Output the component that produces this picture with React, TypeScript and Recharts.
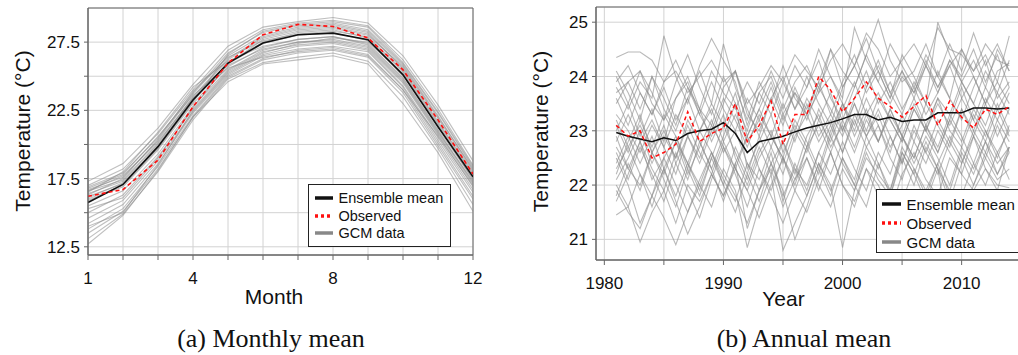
import React from "react"
import { LineChart, Line, XAxis, YAxis, CartesianGrid, ReferenceArea, Legend, Label } from "recharts"

const FONT = "'Liberation Sans', Arial, sans-serif"
const SERIF = "'Liberation Serif', 'Times New Roman', serif"

// (a) monthly mean
const months = [1, 2, 3, 4, 5, 6, 7, 8, 9, 10, 11, 12]
const monthLabels = [1, 4, 8, 12]
const monthTempTicks = [12.5, 15, 17.5, 20, 22.5, 25, 27.5]
const monthTempLabels = [12.5, 17.5, 22.5, 27.5]

const monthlyMean = [15.75, 17.07, 19.84, 23.26, 25.96, 27.43, 28.04, 28.16, 27.67, 25.1, 21.3, 17.63]
const monthlyObs = [16.2, 16.7, 18.86, 22.77, 25.96, 28.04, 28.8, 28.65, 27.8, 25.47, 21.8, 17.83]
const monthlyGcm = [
  [17.3, 18.6, 21.2, 24.4, 27.2, 28.6, 29.0, 29.3, 28.9, 26.5, 22.9, 18.8],
  [17.0, 18.2, 20.8, 24.0, 26.9, 28.4, 28.9, 29.1, 28.7, 26.2, 22.6, 18.5],
  [16.9, 17.9, 20.5, 23.8, 26.7, 28.2, 28.7, 28.9, 28.4, 25.9, 22.3, 18.3],
  [16.7, 17.6, 20.3, 23.7, 26.5, 28.0, 28.6, 28.8, 28.3, 25.8, 22.1, 18.1],
  [16.6, 17.4, 20.1, 23.5, 26.3, 27.9, 28.5, 28.7, 28.2, 25.6, 21.9, 18.0],
  [16.4, 17.3, 20.0, 23.4, 26.2, 27.8, 28.4, 28.6, 28.1, 25.5, 21.7, 17.9],
  [16.3, 17.5, 20.4, 23.9, 26.4, 27.6, 28.1, 28.3, 27.9, 25.4, 21.6, 17.8],
  [16.2, 17.1, 19.9, 23.3, 26.0, 27.5, 28.2, 28.4, 27.8, 25.3, 21.5, 17.7],
  [16.0, 17.0, 19.7, 23.2, 25.9, 27.4, 28.0, 28.2, 27.6, 25.1, 21.3, 17.6],
  [16.5, 18.0, 20.9, 24.2, 26.1, 27.2, 27.7, 27.9, 27.4, 24.9, 21.1, 17.5],
  [16.8, 17.8, 20.6, 23.6, 25.8, 27.0, 27.5, 27.7, 27.2, 24.7, 20.9, 17.3],
  [15.9, 16.9, 19.6, 23.0, 25.7, 27.1, 27.7, 27.9, 27.3, 24.8, 21.0, 17.2],
  [15.5, 16.6, 19.3, 22.8, 25.5, 26.9, 27.5, 27.6, 27.1, 24.6, 20.8, 17.1],
  [15.0, 16.3, 19.1, 22.6, 25.4, 26.8, 27.3, 27.5, 27.0, 24.5, 20.7, 16.9],
  [14.6, 15.9, 18.8, 22.4, 25.2, 26.6, 27.2, 27.4, 26.9, 24.3, 20.5, 16.7],
  [14.2, 15.6, 18.6, 22.3, 25.1, 26.5, 27.0, 27.2, 26.8, 24.2, 20.3, 16.5],
  [13.8, 15.3, 18.4, 22.1, 25.0, 26.3, 26.9, 27.1, 26.6, 24.0, 20.1, 16.2],
  [13.5, 15.1, 18.2, 22.0, 24.9, 26.2, 26.7, 26.9, 26.4, 23.8, 19.9, 16.0],
  [13.1, 14.9, 18.0, 21.8, 24.8, 26.0, 26.4, 26.7, 26.1, 23.5, 19.7, 15.6],
  [12.7, 14.8, 18.1, 22.0, 24.6, 25.9, 26.2, 26.5, 25.9, 23.0, 19.4, 15.1],
  [16.6, 17.7, 20.2, 23.4, 25.6, 26.4, 26.8, 27.0, 26.5, 24.0, 20.6, 17.0],
  [14.0, 15.0, 18.5, 22.5, 25.3, 26.7, 27.4, 27.8, 27.5, 25.2, 21.4, 17.4],
  [16.1, 17.2, 19.8, 23.1, 26.6, 28.3, 28.8, 29.0, 28.6, 26.0, 22.4, 18.4],
  [15.3, 16.1, 19.0, 22.7, 25.9, 27.7, 28.3, 28.5, 28.0, 25.7, 22.0, 18.2],
]

// (b) annual mean
const years = [
  1981, 1982, 1983, 1984, 1985, 1986, 1987, 1988, 1989, 1990, 1991, 1992, 1993, 1994, 1995, 1996, 1997,
  1998, 1999, 2000, 2001, 2002, 2003, 2004, 2005, 2006, 2007, 2008, 2009, 2010, 2011, 2012, 2013, 2014,
]
const yearTicks = [1980, 1985, 1990, 1995, 2000, 2005, 2010]
const yearLabels = [1980, 1990, 2000, 2010]
const annualTempTicks = [21, 22, 23, 24, 25]

const annualMean = [
  22.97, 22.9, 22.85, 22.8, 22.87, 22.82, 22.95, 23.0, 23.03, 23.15, 22.95, 22.6, 22.8, 22.85, 22.9, 22.98, 23.05,
  23.1, 23.15, 23.22, 23.3, 23.3, 23.2, 23.25, 23.17, 23.2, 23.2, 23.33, 23.33, 23.33, 23.42, 23.42, 23.4, 23.42,
]
const annualObs = [
  23.1, 22.9, 23.0, 22.5, 22.6, 22.75, 23.35, 22.8, 22.95, 23.05, 23.5, 22.8, 23.1, 23.55, 22.75, 23.3, 23.3,
  24.0, 23.75, 23.35, 23.6, 23.9, 23.6, 23.45, 23.25, 23.45, 23.65, 23.1, 23.55, 23.25, 23.05, 23.4, 23.3, 23.45,
]
const annualGcm = [
  [24.35, 24.45, 24.45, 24.3, 23.9, 24.1, 23.7, 24.0, 24.3, 23.9, 24.1, 23.5, 23.8, 24.2, 23.9, 24.4, 24.1, 23.8, 24.3, 24.6, 24.2, 24.8, 24.5, 24.0, 24.3, 24.6, 24.2, 24.9, 24.5, 24.4, 24.1, 24.6, 24.3, 24.2],
  [23.8, 23.4, 23.9, 23.6, 24.75, 24.0, 23.5, 24.2, 24.7, 24.3, 23.9, 23.1, 23.7, 24.0, 23.4, 23.9, 24.2, 23.7, 24.5, 24.1, 23.8, 24.4, 25.05, 24.3, 23.9, 24.1, 24.6, 24.0, 23.6, 24.5, 24.1, 24.4, 23.9, 24.75],
  [21.45, 21.6, 20.95, 21.5, 21.9, 21.3, 22.0, 21.7, 22.2, 21.8, 22.4, 21.2, 21.9, 22.3, 21.6, 22.1, 22.5, 21.9, 22.6, 22.0, 21.7, 22.3, 22.0, 21.5, 22.2, 22.6, 22.1, 21.8, 22.5, 22.2, 21.9, 22.3, 22.0, 21.95],
  [22.5, 22.0, 21.3, 21.8, 21.4, 20.9, 21.5, 22.0, 21.6, 22.3, 21.9, 20.85, 21.6, 22.2, 20.8, 21.3, 21.8, 22.4, 21.9, 22.5, 22.1, 22.9, 22.4, 21.8, 22.6, 22.2, 22.8, 22.3, 21.7, 22.4, 22.9, 22.3, 21.9, 22.7],
  [23.7, 23.9, 24.1, 23.5, 23.2, 23.6, 24.0, 23.4, 23.1, 23.8, 24.1, 23.3, 23.0, 23.6, 24.0, 23.4, 23.8, 24.3, 23.6, 23.2, 23.8, 24.4, 23.9, 23.5, 24.0, 23.7, 24.3, 23.8, 24.2, 24.5, 24.0, 23.5, 24.1, 24.25],
  [22.9, 22.3, 22.8, 22.1, 22.5, 22.9, 22.3, 23.0, 22.6, 22.0, 22.7, 22.2, 22.9, 22.4, 22.8, 22.2, 22.9, 23.3, 22.7, 23.1, 22.6, 23.2, 22.8, 23.4, 22.9, 22.5, 23.1, 23.6, 23.0, 22.7, 23.3, 22.9, 23.5, 23.0],
  [24.1, 23.7, 23.2, 24.0, 23.4, 23.0, 23.6, 24.1, 23.5, 24.6, 23.8, 23.2, 23.9, 23.5, 24.2, 23.6, 23.3, 23.9, 24.5, 23.8, 24.2, 23.7, 24.1, 23.6, 24.4, 24.0, 23.5, 25.0, 24.4, 23.9, 24.3, 23.8, 24.5, 24.1],
  [21.8, 22.4, 21.9, 22.6, 22.1, 21.6, 22.3, 21.8, 22.5, 22.0, 21.5, 22.2, 21.7, 22.4, 21.9, 21.0, 21.6, 22.3, 21.8, 22.5, 22.0, 21.6, 22.4, 21.9, 22.6, 22.2, 21.7, 22.3, 21.0, 21.8, 22.4, 22.0, 22.6, 22.1],
  [23.3, 23.0, 22.6, 23.1, 22.7, 23.3, 22.9, 22.4, 23.0, 23.6, 23.2, 22.7, 23.3, 22.9, 23.5, 23.0, 23.6, 23.2, 22.8, 23.4, 23.9, 23.3, 23.7, 23.2, 22.8, 23.4, 23.0, 23.6, 23.3, 23.9, 23.5, 23.1, 23.7, 23.3],
  [22.2, 22.8, 23.3, 22.6, 23.1, 22.4, 22.9, 23.4, 22.8, 23.3, 22.5, 22.0, 22.6, 23.0, 22.4, 23.0, 22.6, 23.2, 23.7, 23.0, 23.5, 22.9, 23.3, 22.7, 23.1, 23.6, 23.1, 22.6, 23.2, 23.8, 23.2, 22.8, 23.4, 22.9],
  [23.0, 23.5, 22.9, 23.4, 22.8, 23.6, 23.9, 23.3, 22.9, 23.5, 24.1, 23.4, 22.9, 23.6, 23.1, 23.8, 23.3, 23.7, 24.0, 23.5, 23.1, 23.8, 24.2, 23.7, 23.3, 23.9, 23.5, 24.1, 23.6, 23.2, 23.8, 24.3, 23.6, 23.9],
  [22.6, 22.1, 22.7, 22.2, 21.7, 22.4, 21.9, 21.4, 22.1, 22.7, 22.2, 21.6, 22.3, 21.8, 21.3, 21.9, 22.5, 22.0, 21.6, 22.3, 21.9, 22.6, 22.1, 21.8, 22.5, 22.0, 22.7, 22.3, 21.9, 22.6, 22.2, 22.8, 22.4, 22.7],
  [23.6, 23.1, 23.7, 23.3, 23.8, 23.2, 23.6, 23.0, 23.5, 23.1, 23.7, 22.9, 23.4, 23.9, 23.3, 23.7, 23.2, 23.8, 23.4, 23.0, 23.6, 24.1, 23.5, 23.9, 23.4, 23.8, 23.3, 23.7, 24.2, 23.6, 24.0, 23.5, 23.9, 23.5],
  [22.0, 21.6, 22.2, 21.8, 22.5, 22.0, 21.5, 22.1, 22.6, 22.2, 21.8, 21.3, 21.9, 22.4, 21.8, 22.3, 21.8, 22.4, 22.0, 20.85, 21.9, 22.5, 22.2, 21.9, 22.7, 22.3, 21.8, 22.4, 22.9, 22.5, 22.0, 22.6, 22.2, 22.6],
  [23.2, 22.7, 23.1, 22.6, 23.0, 22.5, 23.2, 22.8, 22.3, 22.9, 23.5, 22.3, 22.8, 23.3, 22.6, 23.1, 22.7, 23.4, 22.9, 23.5, 23.0, 23.6, 23.1, 22.6, 23.3, 22.8, 23.5, 23.1, 22.7, 23.4, 23.0, 23.6, 23.2, 23.7],
  [22.4, 22.9, 22.4, 22.9, 22.3, 22.8, 22.2, 22.7, 23.2, 22.6, 23.0, 22.4, 22.1, 22.7, 22.2, 22.9, 23.3, 22.8, 23.2, 22.6, 23.3, 22.9, 23.4, 22.9, 22.4, 23.1, 22.6, 23.2, 22.8, 23.4, 22.9, 23.5, 22.9, 23.4],
  [23.5, 23.9, 23.4, 24.0, 23.6, 23.1, 23.8, 23.3, 23.9, 23.4, 23.0, 23.6, 23.2, 23.8, 23.2, 23.7, 23.4, 23.9, 23.3, 23.9, 24.4, 23.8, 24.3, 23.7, 24.1, 23.6, 24.2, 23.8, 24.3, 24.0, 24.5, 23.9, 24.4, 23.8],
  [21.7, 22.2, 22.8, 22.3, 21.9, 22.6, 22.1, 22.8, 22.3, 21.7, 22.4, 22.9, 22.3, 21.9, 22.5, 22.0, 22.7, 22.2, 22.9, 22.4, 22.0, 22.7, 23.1, 22.5, 22.1, 22.8, 22.4, 23.0, 22.6, 22.2, 22.9, 22.5, 23.1, 22.6],
  [22.8, 23.3, 22.8, 23.2, 22.7, 22.2, 22.9, 22.5, 23.1, 22.7, 22.3, 22.9, 23.4, 22.9, 22.5, 23.2, 22.8, 22.3, 23.0, 23.5, 22.9, 23.4, 22.8, 23.3, 22.9, 23.5, 23.0, 22.6, 23.2, 22.8, 23.4, 23.0, 22.5, 23.1],
  [23.9, 24.2, 23.7, 23.3, 23.9, 24.3, 23.8, 23.4, 24.1, 23.7, 23.4, 23.9, 23.5, 24.1, 23.6, 24.2, 23.8, 24.5, 24.0, 23.6, 24.9, 24.3, 23.9, 24.6, 24.2, 23.8, 24.4, 24.0, 24.6, 24.1, 24.8, 24.2, 24.6, 24.1],
  [22.3, 22.7, 22.2, 21.6, 22.3, 21.8, 22.4, 22.0, 22.6, 22.1, 21.7, 22.4, 21.9, 22.6, 21.7, 22.4, 21.9, 22.6, 22.2, 22.8, 22.3, 21.9, 22.6, 22.2, 22.9, 22.4, 22.9, 22.5, 22.0, 22.7, 22.3, 22.8, 22.2, 22.7],
  [23.1, 22.6, 23.2, 22.7, 23.3, 22.9, 22.4, 23.0, 23.4, 22.8, 23.3, 22.8, 23.2, 22.7, 23.3, 22.8, 23.5, 22.9, 23.3, 22.9, 23.5, 23.0, 23.6, 23.2, 22.8, 23.4, 23.0, 23.5, 23.1, 23.6, 23.2, 23.8, 23.4, 23.8],
  [22.7, 22.3, 22.0, 22.6, 22.2, 22.8, 22.4, 21.9, 22.5, 23.1, 22.6, 22.1, 22.7, 22.2, 22.8, 22.3, 22.0, 22.6, 23.1, 22.6, 23.2, 22.7, 22.3, 22.9, 22.4, 23.0, 22.6, 22.2, 22.8, 22.4, 23.0, 22.6, 23.2, 22.8],
  [24.0, 23.5, 24.1, 23.7, 23.2, 23.9, 24.4, 23.8, 23.3, 24.0, 23.5, 23.0, 23.7, 23.3, 23.9, 23.4, 24.0, 23.5, 23.1, 23.8, 24.2, 24.7, 24.1, 23.6, 24.1, 23.7, 24.2, 23.7, 24.3, 23.9, 23.5, 24.1, 23.7, 24.3],
  [21.9, 21.5, 21.2, 21.8, 22.3, 21.7, 21.1, 21.6, 22.2, 21.8, 22.3, 21.9, 21.4, 22.0, 22.5, 21.9, 21.5, 22.1, 22.6, 22.0, 21.6, 22.3, 21.8, 21.1, 21.7, 22.3, 21.9, 22.4, 21.8, 21.4, 22.0, 22.5, 22.1, 22.3],
  [22.1, 22.5, 23.0, 22.4, 22.9, 22.5, 23.1, 22.6, 22.2, 22.8, 22.3, 21.9, 22.5, 22.9, 22.5, 22.1, 22.7, 23.1, 22.6, 23.2, 22.7, 23.3, 22.8, 23.4, 22.9, 22.5, 23.1, 22.7, 23.3, 22.9, 22.4, 23.0, 22.6, 23.0],
]

const legendItems = [
  { label: "Ensemble mean", color: "#111", dash: undefined },
  { label: "Observed", color: "#ff1010", dash: "3 3" },
  { label: "GCM data", color: "#888", dash: undefined },
]

function buildRows(keyName: string, keys: number[], mean: number[], obs: number[], gcm: number[][]) {
  return keys.map((k, i) => {
    const row: any = { [keyName]: k, mean: mean[i], obs: obs[i] }
    gcm.forEach((g, j) => (row["g" + j] = g[i]))
    return row
  })
}

const monthlyRows = buildRows("month", months, monthlyMean, monthlyObs, monthlyGcm)
const annualRows = buildRows("year", years, annualMean, annualObs, annualGcm)

function LegendBox({ width, height, rowH, padTop, padLeft, fontSize, sampleW }: any) {
  return (
    <div
      style={{
        width,
        height,
        boxSizing: "border-box",
        border: "1.5px solid #222",
        background: "#fff",
        paddingTop: padTop,
        paddingLeft: padLeft,
        fontFamily: FONT,
        fontSize,
        color: "#111",
      }}
    >
      {legendItems.map((it) => (
        <div key={it.label} style={{ display: "flex", alignItems: "center", height: rowH }}>
          <svg width={sampleW} height={6} style={{ display: "block" }}>
            <line x1={0} y1={3} x2={sampleW} y2={3} stroke={it.color} strokeWidth={3.5} strokeDasharray={it.dash} />
          </svg>
          <span style={{ marginLeft: 6, lineHeight: 1, whiteSpace: "nowrap" }}>{it.label}</span>
        </div>
      ))}
    </div>
  )
}

const tickStyle = { fontFamily: FONT, fontSize: 17, fill: "#111" }
const gcmStroke = "#8a8a8a"

function MonthlyChart() {
  return (
    <LineChart width={500} height={320} data={monthlyRows} margin={{ top: 8, right: 27, bottom: 0, left: 0 }}>
      <CartesianGrid stroke="#d2d2d2" strokeWidth={1} />
      <XAxis
        dataKey="month"
        type="number"
        domain={[1, 12]}
        ticks={months}
        interval={0}
        allowDataOverflow
        height={65}
        tick={tickStyle}
        tickSize={5}
        tickMargin={12}
        stroke="#666"
        tickFormatter={(v) => (monthLabels.includes(v) ? String(v) : "")}
      >
        <Label
          content={() => (
            <text x={274} y={304} textAnchor="middle" fontFamily={FONT} fontSize={21} fill="#111">
              Month
            </text>
          )}
        />
      </XAxis>
      <YAxis
        type="number"
        domain={[11.9, 30]}
        ticks={monthTempTicks}
        interval={0}
        allowDataOverflow
        width={88}
        tick={tickStyle}
        tickSize={4}
        tickMargin={4}
        stroke="#666"
        tickFormatter={(v) => (monthTempLabels.includes(v) ? v.toFixed(1) : "")}
      >
        <Label
          content={() => (
            <text x={30} y={131} transform="rotate(-90 30 131)" textAnchor="middle" fontFamily={FONT} fontSize={21} fill="#111">
              Temperature (°C)
            </text>
          )}
        />
      </YAxis>
      {monthlyGcm.map((_, j) => (
        <Line
          key={j}
          dataKey={"g" + j}
          type="linear"
          stroke={gcmStroke}
          strokeOpacity={0.55}
          strokeWidth={1.1}
          dot={false}
          activeDot={false}
          isAnimationActive={false}
        />
      ))}
      <Line dataKey="mean" type="linear" stroke="#111" strokeWidth={1.6} dot={false} isAnimationActive={false} />
      <Line dataKey="obs" type="linear" stroke="#ff1010" strokeWidth={1.6} strokeDasharray="4 3" dot={false} isAnimationActive={false} />
      <ReferenceArea x1={1} x2={12} y1={11.9} y2={30} fill="none" stroke="#666" strokeWidth={1} ifOverflow="visible" />
      <Legend
        layout="horizontal"
        verticalAlign="middle"
        align="center"
        wrapperStyle={{ left: 308, top: 184, width: 143 }}
        content={() => <LegendBox width={143} height={63} rowH={17.5} padTop={4.5} padLeft={5.5} fontSize={14.5} sampleW={18} />}
      />
    </LineChart>
  )
}

function AnnualChart() {
  return (
    <LineChart width={520} height={320} data={annualRows} margin={{ top: 7, right: 10, bottom: 0, left: 0 }}>
      <CartesianGrid stroke="#d2d2d2" strokeWidth={1} />
      <XAxis
        dataKey="year"
        type="number"
        domain={[1979.3, 2014.9]}
        ticks={yearTicks}
        interval={0}
        allowDataOverflow
        height={60}
        tick={tickStyle}
        tickSize={5}
        tickMargin={12}
        stroke="#666"
        tickFormatter={(v) => (yearLabels.includes(v) ? String(v) : "")}
      >
        <Label
          content={() => (
            <text x={273.5} y={306} textAnchor="middle" fontFamily={FONT} fontSize={21} fill="#111">
              Year
            </text>
          )}
        />
      </XAxis>
      <YAxis
        type="number"
        domain={[20.62, 25.28]}
        ticks={annualTempTicks}
        interval={0}
        allowDataOverflow
        width={86}
        tick={tickStyle}
        tickSize={4}
        tickMargin={4}
        stroke="#666"
      >
        <Label
          content={() => (
            <text x={38} y={131.5} transform="rotate(-90 38 131.5)" textAnchor="middle" fontFamily={FONT} fontSize={21} fill="#111">
              Temperature (°C)
            </text>
          )}
        />
      </YAxis>
      {annualGcm.map((_, j) => (
        <Line
          key={j}
          dataKey={"g" + j}
          type="linear"
          stroke={gcmStroke}
          strokeOpacity={0.6}
          strokeWidth={1.1}
          dot={false}
          activeDot={false}
          isAnimationActive={false}
        />
      ))}
      <Line dataKey="mean" type="linear" stroke="#111" strokeWidth={1.5} dot={false} isAnimationActive={false} />
      <Line dataKey="obs" type="linear" stroke="#ff1010" strokeWidth={1.5} strokeDasharray="4 3" dot={false} isAnimationActive={false} />
      <ReferenceArea x1={1979.3} x2={2014.9} y1={20.62} y2={25.28} fill="none" stroke="#666" strokeWidth={1} ifOverflow="visible" />
      <Legend
        layout="horizontal"
        verticalAlign="middle"
        align="center"
        wrapperStyle={{ left: 366, top: 189, width: 160 }}
        content={() => <LegendBox width={160} height={64} rowH={19} padTop={4.5} padLeft={4.5} fontSize={15} sampleW={19} />}
      />
    </LineChart>
  )
}

export default function App() {
  return (
    <div style={{ position: "absolute", left: 0, top: 0, width: 1018, height: 355, overflow: "hidden", background: "#fff" }}>
      <div style={{ position: "absolute", left: 0, top: 0 }}>
        <MonthlyChart />
      </div>
      <div style={{ position: "absolute", left: 510, top: 0 }}>
        <AnnualChart />
      </div>
      <svg width={1018} height={355} style={{ position: "absolute", left: 0, top: 0, pointerEvents: "none" }}>
        <text x={271} y={347} textAnchor="middle" fontFamily={SERIF} fontSize={26} fill="#111">
          (a) Monthly mean
        </text>
        <text x={804} y={347} textAnchor="middle" fontFamily={SERIF} fontSize={26} fill="#111">
          (b) Annual mean
        </text>
      </svg>
    </div>
  )
}
